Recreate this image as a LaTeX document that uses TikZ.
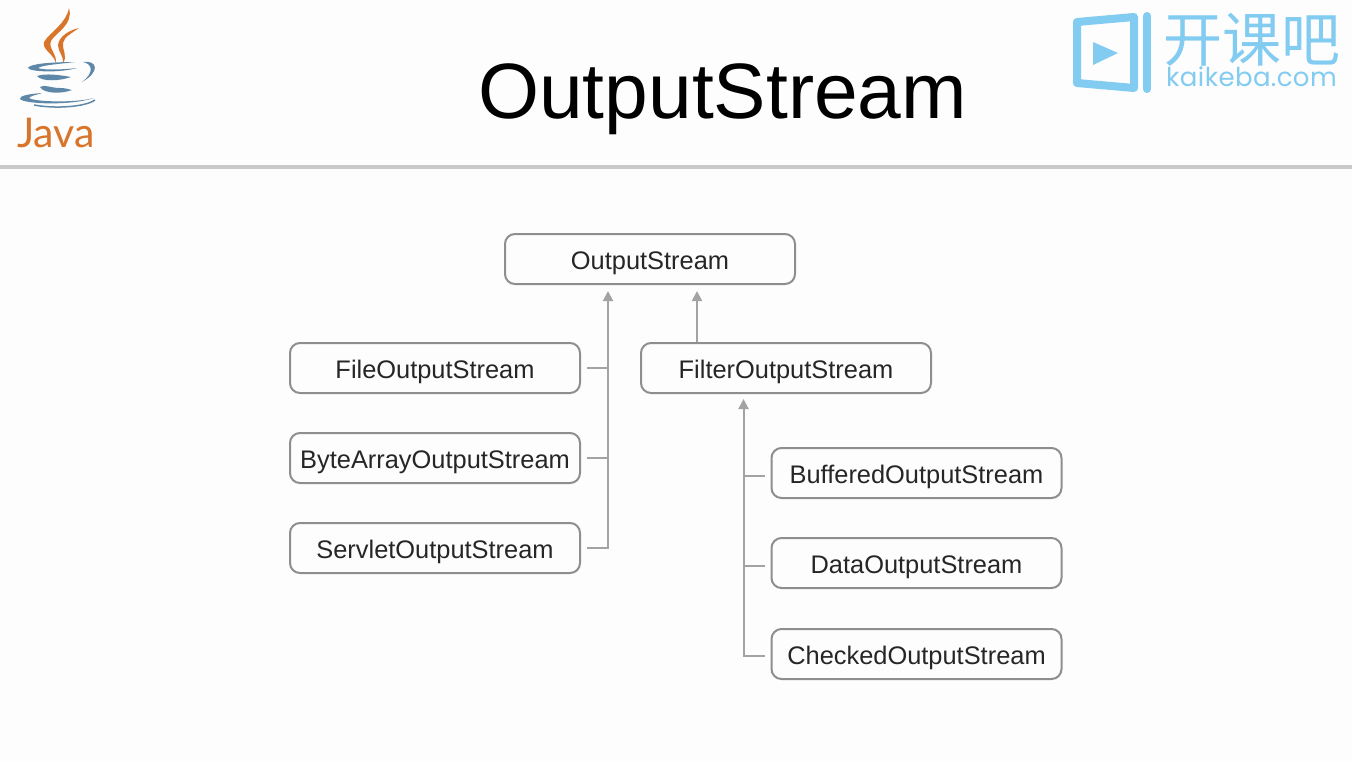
\documentclass[tikz,border=0pt]{standalone}
\usepackage{fontspec}
\setmainfont{Liberation Sans}
\newfontfamily\cjkfont{Noto Sans CJK SC}
\newfontfamily\logofont[LetterSpace=1.5]{Poppins}
\newfontfamily\javafont{Lato}
\definecolor{paper}{HTML}{FDFDFD}
\definecolor{rulegray}{HTML}{C9C9C7}
\definecolor{boxgray}{HTML}{8E8E8E}
\definecolor{linkgray}{HTML}{A3A3A3}
\definecolor{javaorange}{HTML}{D9752B}
\definecolor{javablue}{HTML}{5F87A8}
\definecolor{logoblue}{HTML}{82CBF1}
\usetikzlibrary{arrows.meta}
\tikzset{
    classbox/.style={draw=boxgray, line width=2pt, rounded corners=10pt, fill=paper,
        minimum width=290pt, minimum height=50pt, inner sep=0pt, text=black!85,
        text height=20pt, text depth=0pt,
        font=\fontsize{25.4}{30}\selectfont},
    link/.style={draw=linkgray, line width=2pt},
    arrowlink/.style={link, -{Triangle[length=10pt, width=10pt]}}
}
\begin{document}
\begin{tikzpicture}[x=1pt, y=-1pt]
\fill[paper] (0,0) rectangle (1352,761);
\useasboundingbox (0,0) rectangle (1352,761);
\fill[rulegray] (0,164.5) rectangle (1352,168.5);
\node (title) at (722.5,118) [anchor=base, font=\fontsize{78.5}{90}\selectfont, text=black] {OutputStream};

% java logo
\fill[javaorange] (69,8) .. controls (66,24) and (50,32) .. (44,42)
    .. controls (42,50) and (53,53) .. (56,63)
    .. controls (57,54) and (48,48) .. (51,41)
    .. controls (55,33) and (74,25) .. cycle;
\fill[javaorange] (79,28) .. controls (70,30) and (59,36) .. (58,45)
    .. controls (58,52) and (64,56) .. (63,63)
    .. controls (68,56) and (62,50) .. (63,43)
    .. controls (64,37) and (72,33) .. cycle;
\fill[javablue] (75,62) .. controls (50,62) and (29,64) .. (28,68)
    .. controls (30,72) and (60,73) .. (77,68)
    .. controls (60,70) and (42,70) .. (38,68)
    .. controls (42,65) and (60,64) .. cycle;
\fill[javablue] (83,62) .. controls (98,60) and (100,72) .. (82,82)
    .. controls (94,73) and (93,64) .. cycle;
\fill[javablue] (37,76) .. controls (45,73) and (60,75) .. (71,77)
    .. controls (60,81) and (42,82) .. cycle;
\fill[javablue] (40,87) .. controls (45,84) and (50,88) .. (60,88)
    .. controls (65,88) and (68,89) .. (72,90)
    .. controls (62,94) and (44,94) .. cycle;
\fill[javablue] (42,93) .. controls (28,94) and (19,96) .. (20,99)
    .. controls (24,104) and (70,106) .. (94,98)
    .. controls (75,103) and (35,102) .. (29,98)
    .. controls (30,96) and (36,95) .. cycle;
\draw[javablue, line width=1.5pt] (34,105) .. controls (55,109) and (85,107) .. (95,100);
\node (javaword) at (56,147) [anchor=base, font=\javafont\fontsize{41}{44}\selectfont, text=javaorange] {Java};

% kaikeba logo
\draw[logoblue, line width=8pt, line join=round] (1077,22) -- (1134,17) -- (1134,88) -- (1077,83) -- cycle;
\draw[logoblue, line width=8pt, line cap=round] (1147,16) -- (1147,89);
\fill[logoblue] (1093,42) -- (1118,53) -- (1093,65) -- cycle;
\node (logocn) at (1251.5,40) [font=\cjkfont\fontsize{59}{60}\selectfont, text=logoblue] {开课吧};
\node (logoen) at (1251.5,86) [anchor=base, font=\logofont\fontsize{26}{30}\selectfont, text=logoblue] {kaikeba.com};

% classes
\node[classbox] (output) at (650,259) {OutputStream};
\node[classbox] (file) at (435,368) {FileOutputStream};
\node[classbox] (bytearray) at (435,458) {ByteArrayOutputStream};
\node[classbox] (servlet) at (435,548) {ServletOutputStream};
\node[classbox] (filter) at (786,368) {FilterOutputStream};
\node[classbox] (buffered) at (916.5,473) {BufferedOutputStream};
\node[classbox] (data) at (916.5,563) {DataOutputStream};
\node[classbox] (checked) at (916.5,654) {CheckedOutputStream};

% connectors
\coordinate (outtrunk) at (608,291);
\coordinate (outfilter) at (697,291);
\coordinate (filtertrunk) at (743.5,399);
\draw[arrowlink] ([xshift=6pt]servlet.east) -| (outtrunk);
\draw[link] ([xshift=6pt]bytearray.east) -- (bytearray.east -| outtrunk);
\draw[link] ([xshift=6pt]file.east) -- (file.east -| outtrunk);
\draw[arrowlink] (filter.north -| outfilter) -- (outfilter);
\draw[arrowlink] ([xshift=-6pt,yshift=-2pt]checked.west) -| (filtertrunk);
\draw[link] ([xshift=-6pt,yshift=-2.5pt]data.west) -- ([yshift=-2.5pt]data.west -| filtertrunk);
\draw[link] ([xshift=-6pt,yshift=-3pt]buffered.west) -- ([yshift=-3pt]buffered.west -| filtertrunk);
\end{tikzpicture}
\end{document}
